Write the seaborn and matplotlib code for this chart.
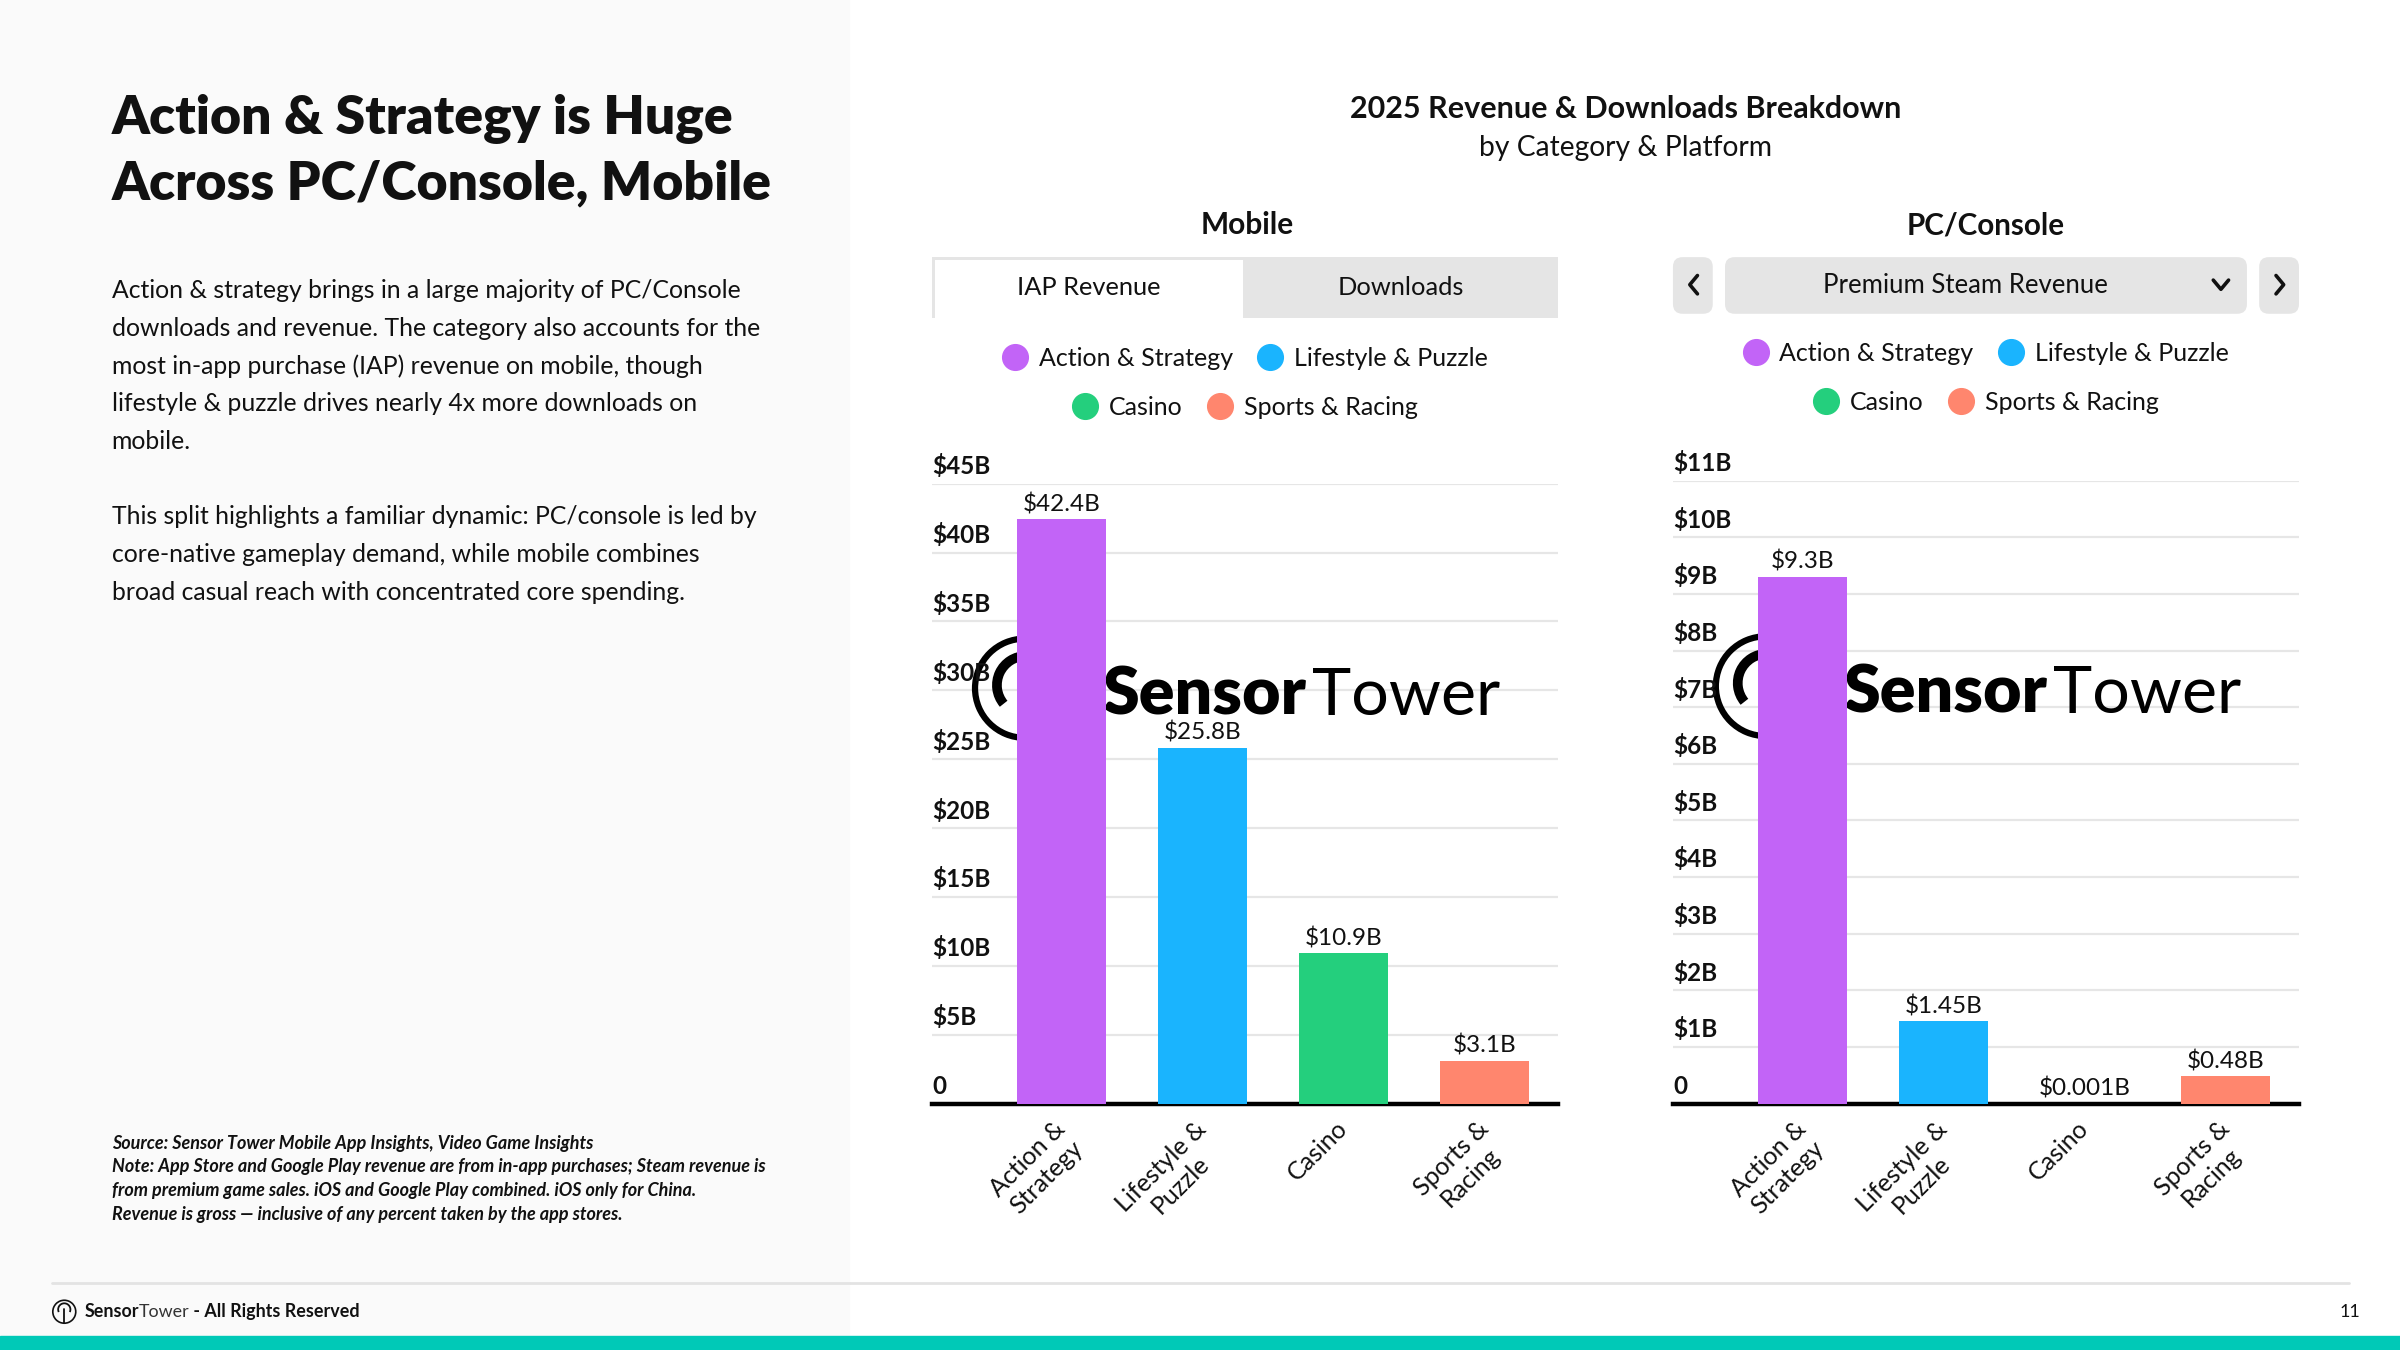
import matplotlib
matplotlib.use("Agg")
import pandas as pd
import seaborn as sns
import matplotlib.pyplot as plt
import matplotlib.transforms as mtransforms
from matplotlib.patches import Rectangle, FancyBboxPatch, Arc
from matplotlib.lines import Line2D

# ---------------- data ----------------
categories = ["Action & Strategy", "Lifestyle & Puzzle", "Casino", "Sports & Racing"]
category_tick_labels = ["Action &\nStrategy", "Lifestyle &\nPuzzle", "Casino", "Sports &\nRacing"]
category_colors = ["#c264f7", "#1ab4fe", "#24cf7d", "#ff866e"]

mobile_iap_revenue = [42.4, 25.8, 10.9, 3.1]
mobile_ticks = [0, 5, 10, 15, 20, 25, 30, 35, 40, 45]
mobile_tick_labels = ["0", "$5B", "$10B", "$15B", "$20B", "$25B", "$30B", "$35B", "$40B", "$45B"]

pc_steam_revenue = [9.3, 1.45, 0.001, 0.48]
pc_ticks = [0, 1, 2, 3, 4, 5, 6, 7, 8, 9, 10, 11]
pc_tick_labels = ["0", "$1B", "$2B", "$3B", "$4B", "$5B", "$6B", "$7B", "$8B", "$9B", "$10B", "$11B"]

title_lines = ["Action & Strategy is Huge", "Across PC/Console, Mobile"]
body_lines = [
    "Action & strategy brings in a large majority of PC/Console",
    "downloads and revenue. The category also accounts for the",
    "most in-app purchase (IAP) revenue on mobile, though",
    "lifestyle & puzzle drives nearly 4x more downloads on",
    "mobile.",
    "",
    "This split highlights a familiar dynamic: PC/console is led by",
    "core-native gameplay demand, while mobile combines",
    "broad casual reach with concentrated core spending.",
]
note_lines = [
    "Source: Sensor Tower Mobile App Insights, Video Game Insights",
    "Note: App Store and Google Play revenue are from in-app purchases; Steam revenue is",
    "from premium game sales. iOS and Google Play combined. iOS only for China.",
    "Revenue is gross \u2014 inclusive of any percent taken by the app stores.",
]

# ---------------- style ----------------
sns.set_style("white")
plt.rcParams["font.family"] = ["Lato", "DejaVu Sans"]
INK = "#111111"
GRID = "#e6e6e6"
PANEL = "#e5e5e5"

W, H = 1568.0, 882.0  # layout measured on the reference, converted to figure fractions


def fx(x):
    return x / W


def fy(y):
    return 1 - y / H


fig = plt.figure(figsize=(24, 13.5), dpi=100)
fig.patch.set_facecolor("white")
renderer = fig.canvas.get_renderer()

# page furniture
fig.add_artist(Rectangle((0, 0), fx(555), 1, transform=fig.transFigure,
                         color="#fafafa", zorder=-10))
fig.add_artist(Rectangle((0, 0), 1, 9 / H, transform=fig.transFigure,
                         color="#00c9b7", zorder=-5))
fig.add_artist(Line2D([fx(34), fx(1535)], [fy(838), fy(838)], transform=fig.transFigure,
                      color="#e3e3e3", lw=2))

# left column text
for i, line in enumerate(title_lines):
    fig.text(fx(73), fy(78 + 42 * i), line, fontsize=38.5, fontweight="heavy",
             color=INK, va="center", ha="left")
for i, line in enumerate(body_lines):
    fig.text(fx(73), fy(190 + 24.6 * i), line, fontsize=17.8, color=INK,
             va="center", ha="left")
for i, line in enumerate(note_lines):
    fig.text(fx(73), fy(747 + 15.4 * i), line, fontsize=13.0, style="italic",
             fontweight="bold", color=INK, va="center", ha="left")


def text_run(x, y, parts, **kw):
    # place consecutive text pieces side by side, in figure coords
    for s, props in parts:
        t = fig.text(x, y, s, va="center", ha="left", **kw, **props)
        x = t.get_window_extent(renderer).x1 / fig.bbox.width
    return x


# footer
text_run(fx(55), fy(857), [("Sensor", {"fontweight": "bold", "color": INK}),
                           ("Tower", {"color": "#333333"}),
                           (" - All Rights Reserved", {"fontweight": "bold", "color": INK})],
         fontsize=12.9)
fig.text(fx(1542), fy(857), "11", fontsize=12.9, color=INK, va="center", ha="right")
r = 7.5
cx, cy = fx(42), fy(857)
fig.add_artist(Arc((cx, cy), 2 * r / W, 2 * r / H, transform=fig.transFigure,
                   color=INK, lw=1.2))
fig.add_artist(Arc((cx, cy + 1.5 / H), 8 / W, 8 / H, theta1=-40, theta2=220,
                   transform=fig.transFigure, color=INK, lw=1.3))
fig.add_artist(Line2D([cx, cx], [cy + 1.5 / H, cy - r / H], transform=fig.transFigure,
                      color=INK, lw=1.3))

# chart headings
fig.text(fx(1062), fy(71), "2025 Revenue & Downloads Breakdown", fontsize=22,
         fontweight="bold", color=INK, ha="center", va="center")
fig.text(fx(1062), fy(97), "by Category & Platform", fontsize=20.3, color=INK,
         ha="center", va="center")
fig.text(fx(815), fy(147), "Mobile", fontsize=21.5, fontweight="bold", color=INK,
         ha="center", va="center")
fig.text(fx(1297), fy(147), "PC/Console", fontsize=21.3, fontweight="bold", color=INK,
         ha="center", va="center")


def box(x0, y0, x1, y1, color, rounded=True):
    style = "round,pad=0,rounding_size=0.004" if rounded else "square,pad=0"
    p = FancyBboxPatch((fx(x0), fy(y1)), fx(x1) - fx(x0), fy(y0) - fy(y1),
                       boxstyle=style, mutation_aspect=W / H,
                       transform=fig.transFigure, facecolor=color, edgecolor="none",
                       zorder=1)
    fig.add_artist(p)


# mobile tabs
box(609, 168, 1018, 208, PANEL, rounded=False)
box(611, 170, 812, 208, "white", rounded=False)
fig.text(fx(711), fy(188), "IAP Revenue", fontsize=18.3, color=INK, ha="center",
         va="center", zorder=3)
fig.text(fx(915), fy(188), "Downloads", fontsize=18.3, color=INK, ha="center",
         va="center", zorder=3)

# pc/console selector
box(1093, 168, 1119, 205, PANEL)
box(1127, 168, 1468, 205, PANEL)
box(1476, 168, 1502, 205, PANEL)
fig.text(fx(1284), fy(186.5), "Premium Steam Revenue", fontsize=18.5, color=INK,
         ha="center", va="center", zorder=3)
for xs, ys in [([1109, 1104, 1109], [180, 186, 192]),
               ([1487, 1492, 1487], [180, 186, 192]),
               ([1446, 1451, 1456], [183, 189, 183])]:
    fig.add_artist(Line2D([fx(v) for v in xs], [fy(v) for v in ys],
                          transform=fig.transFigure, color=INK, lw=2.6, zorder=3,
                          solid_capstyle="round", solid_joinstyle="round"))


def legend_rows(cx, y_first, y_second):
    rows = [(0, 2, y_first), (2, 4, y_second)]
    for a, b, yy in rows:
        handles = [Line2D([], [], marker="o", linestyle="", markersize=18.5,
                          markerfacecolor=c, markeredgecolor=c)
                   for c in category_colors[a:b]]
        leg = fig.legend(handles, categories[a:b], loc="center",
                         bbox_to_anchor=(fx(cx), fy(yy)), ncol=2, frameon=False,
                         fontsize=18, handlelength=1.0, handletextpad=0.45,
                         columnspacing=1.0, borderpad=0, borderaxespad=0)
        for t in leg.get_texts():
            t.set_color(INK)


legend_rows(813.5, 234, 266)
legend_rows(1297.5, 231, 263)


def draw_chart(ax, values, ticks, tick_text):
    df = pd.DataFrame({"category": categories, "value": values})
    sns.barplot(data=df, x="category", y="value", hue="category",
                hue_order=categories, order=categories,
                palette=dict(zip(categories, category_colors)), saturation=1,
                width=0.63, legend=False, ax=ax, zorder=3, linewidth=0)
    ax.set_xlim(-0.915, 3.52)
    ax.set_ylim(0, ticks[-1])
    ax.set_yticks(ticks)
    ax.yaxis.grid(True, color=GRID, lw=1.6)
    ax.set_axisbelow(True)
    ax.tick_params(left=False, labelleft=False, bottom=False)
    for s in ["top", "right", "left"]:
        ax.spines[s].set_visible(False)
    ax.spines["bottom"].set_color("black")
    ax.spines["bottom"].set_linewidth(3.2)
    ax.set_xlabel("")
    ax.set_ylabel("")
    ax.set_xticks(range(len(categories)))
    ax.set_xticklabels(category_tick_labels, rotation=45, ha="right",
                       rotation_mode="anchor", fontsize=18, color=INK,
                       multialignment="center")
    ax.tick_params(axis="x", pad=6)
    shift = mtransforms.ScaledTranslation(-0.08, 0, fig.dpi_scale_trans)
    for lab in ax.get_xticklabels():
        lab.set_transform(lab.get_transform() + shift)
    for v, lbl in zip(ticks, tick_text):
        ax.annotate(lbl, xy=(0, v), xycoords=("axes fraction", "data"),
                    xytext=(0, 4), textcoords="offset points", ha="left",
                    va="bottom", fontsize=17.5, fontweight="bold", color=INK,
                    annotation_clip=False)
    for c in ax.containers:
        ax.bar_label(c, fmt="${:g}B", padding=3, fontsize=17.5, color=INK)

    # Sensor Tower watermark
    ax.add_patch(Arc((0.148, 0.670), 0.159, 0.160, transform=ax.transAxes,
                     color="black", lw=4.5, zorder=2))
    ax.add_patch(Arc((0.150, 0.675), 0.093, 0.094, theta1=-40, theta2=220,
                     transform=ax.transAxes, color="black", lw=7, zorder=2))
    t1 = ax.text(0.272, 0.627, "Sensor", transform=ax.transAxes, fontsize=47.8,
                 fontweight="heavy", color="black", va="baseline", ha="left", zorder=2)
    e = t1.get_window_extent(renderer)
    x_next = ax.transAxes.inverted().transform((e.x1 + 6, e.y0))[0]
    ax.text(x_next, 0.627, "Tower", transform=ax.transAxes, fontsize=47.8,
            color="black", va="baseline", ha="left", zorder=2)


ax_m = fig.add_axes([fx(609), fy(721), fx(1018) - fx(609), fy(316) - fy(721)])
ax_m.set_facecolor("none")
draw_chart(ax_m, mobile_iap_revenue, mobile_ticks, mobile_tick_labels)

ax_p = fig.add_axes([fx(1093), fy(721), fx(1502) - fx(1093), fy(314) - fy(721)])
ax_p.set_facecolor("none")
draw_chart(ax_p, pc_steam_revenue, pc_ticks, pc_tick_labels)

fig.savefig("out.png", dpi=100, facecolor="white")
